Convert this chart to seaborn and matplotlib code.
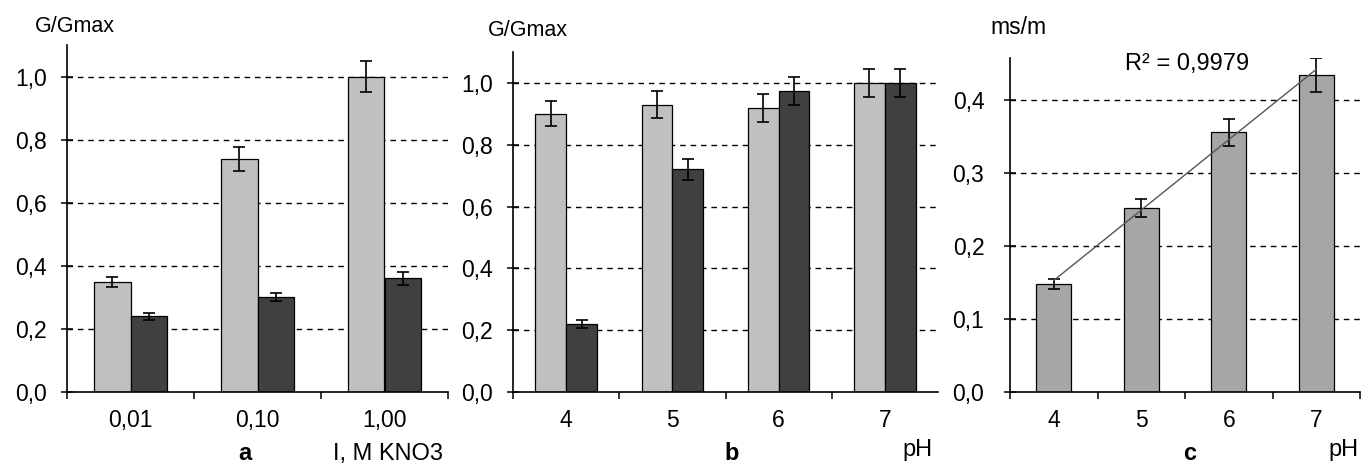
import numpy as np
import pandas as pd
import matplotlib
matplotlib.use("Agg")
import matplotlib.pyplot as plt
from matplotlib.ticker import FixedLocator, FuncFormatter
import seaborn as sns

# ---- data -------------------------------------------------------------
kno3_labels = ["0,01", "0,10", "1,00"]
kno3_light = [0.35, 0.74, 1.00]
kno3_light_err = [0.016, 0.038, 0.048]
kno3_dark = [0.24, 0.30, 0.36]
kno3_dark_err = [0.012, 0.013, 0.020]

ph_labels = ["4", "5", "6", "7"]
ph_light = [0.90, 0.93, 0.92, 1.00]
ph_light_err = [0.04, 0.045, 0.045, 0.045]
ph_dark = [0.22, 0.72, 0.975, 1.00]
ph_dark_err = [0.012, 0.035, 0.045, 0.045]

ms_values = [0.148, 0.252, 0.356, 0.435]
ms_err = [0.007, 0.012, 0.019, 0.023]
r2_label = "R² = 0,9979"

# ---- style ------------------------------------------------------------
sns.set_theme(style="white")
plt.rcParams["font.family"] = ["Liberation Sans", "DejaVu Sans"]

LIGHT = "#c0c0c0"
DARK = "#404040"
MID = "#a6a6a6"

W, H = 1362, 463
fig = plt.figure(figsize=(W / 100, H / 100), dpi=100)
fig.patch.set_facecolor("white")


def px_axes(left, top, right, bottom):
    return fig.add_axes([left / W, (H - bottom) / H, (right - left) / W, (bottom - top) / H])


def comma(v, _pos=None):
    return f"{v:.1f}".replace(".", ",")


def style_axes(ax, ymax, yticks, grid_vals, n_cat, boundary_ticks, ypad=10):
    ax.set_ylim(0, ymax)
    ax.set_xlim(-0.5, n_cat - 0.5)
    for side in ("top", "right"):
        ax.spines[side].set_visible(False)
    for side in ("left", "bottom"):
        ax.spines[side].set_color("black")
        ax.spines[side].set_linewidth(1.2)
    ax.yaxis.set_major_locator(FixedLocator(yticks))
    ax.yaxis.set_major_formatter(FuncFormatter(comma))
    ax.tick_params(axis="y", direction="inout", length=9, width=1.1,
                   labelsize=16.5, colors="black", pad=ypad, left=True)
    ax.tick_params(axis="x", which="major", length=0, labelsize=16.5, pad=12,
                   colors="black")
    ax.xaxis.set_minor_locator(FixedLocator(boundary_ticks))
    ax.tick_params(axis="x", which="minor", direction="out", length=5,
                   width=1.1, color="black", bottom=True)
    for g in grid_vals:
        ax.axhline(g, color="black", lw=1.0, ls=(0, (4, 3.5)), zorder=0.5)
    ax.set_xlabel("")
    ax.set_ylabel("")
    ax.set_facecolor("white")


def grouped(ax, labels, light, dark, light_err, dark_err):
    df = pd.DataFrame({
        "cat": labels * 2,
        "value": light + dark,
        "series": ["s1"] * len(labels) + ["s2"] * len(labels),
    })
    sns.barplot(data=df, x="cat", y="value", hue="series", order=labels,
                palette=[LIGHT, DARK], width=0.58, gap=0, errorbar=None,
                edgecolor="black", linewidth=0.9, legend=False, ax=ax, zorder=2)
    errs = light_err + dark_err
    bars = [p for p in ax.patches][: len(errs)]
    for p, v, e in zip(bars, light + dark, errs):
        cx = p.get_x() + p.get_width() / 2
        ax.errorbar(cx, v, yerr=e, fmt="none", ecolor="black",
                    elinewidth=1.2, capsize=4, capthick=1.2, zorder=3)


# ---- panel a ----------------------------------------------------------
ax_a = px_axes(67, 45, 448, 392)
grouped(ax_a, kno3_labels, kno3_light, kno3_dark, kno3_light_err, kno3_dark_err)
style_axes(ax_a, 1.1, [0, 0.2, 0.4, 0.6, 0.8, 1.0], [0.2, 0.4, 0.6, 0.8, 1.0],
           len(kno3_labels), [-0.5, 0.5, 1.5, 2.5])

# ---- panel b ----------------------------------------------------------
ax_b = px_axes(513, 52, 938, 392)
grouped(ax_b, ph_labels, ph_light, ph_dark, ph_light_err, ph_dark_err)
style_axes(ax_b, 1.1, [0, 0.2, 0.4, 0.6, 0.8, 1.0], [0.2, 0.4, 0.6, 0.8, 1.0],
           len(ph_labels), [-0.5, 0.5, 1.5, 2.5])

# ---- panel c ----------------------------------------------------------
ax_c = px_axes(1010, 58, 1360, 392)
dfc = pd.DataFrame({"pH": ph_labels, "value": ms_values})
sns.barplot(data=dfc, x="pH", y="value", order=ph_labels, color=MID,
            saturation=1, width=0.4, errorbar=None, edgecolor="black",
            linewidth=0.9, ax=ax_c, zorder=2)
for p, v, e in zip(ax_c.patches, ms_values, ms_err):
    cx = p.get_x() + p.get_width() / 2
    ax_c.errorbar(cx, v, yerr=e, fmt="none", ecolor="black",
                  elinewidth=1.2, capsize=4, capthick=1.2, zorder=3)
sns.regplot(x=np.arange(len(ms_values)), y=np.array(ms_values), ci=None,
            scatter=False, truncate=True, ax=ax_c,
            line_kws={"color": "#555555", "lw": 1.0, "zorder": 4})
style_axes(ax_c, 0.458, [0, 0.1, 0.2, 0.3, 0.4], [0.1, 0.2, 0.3, 0.4],
           len(ph_labels), [-0.5, 0.5, 1.5, 2.5, 3.5], ypad=14)
ax_c.set_xlim(-0.5, len(ph_labels) - 0.5)

# ---- annotations ------------------------------------------------------
def ftext(x, y, s, **kw):
    kw.setdefault("fontsize", 15.5)
    kw.setdefault("ha", "center")
    kw.setdefault("va", "center")
    fig.text(x / W, 1 - y / H, s, color="black", **kw)


ftext(75, 27, "G/Gmax")
ftext(245, 454, "a", fontweight="bold", fontsize=17)
ftext(443, 454, "I, M KNO3", ha="right", fontsize=17)

ftext(528, 30, "G/Gmax")
ftext(732, 454, "b", fontweight="bold", fontsize=17)
ftext(918, 450, "pH", fontsize=17)

ftext(1018, 27, "ms/m", fontsize=16.5)
ftext(1190, 454, "c", fontweight="bold", fontsize=17)
ftext(1343, 450, "pH", fontsize=17)
ftext(1187, 64, r2_label, fontsize=17)

fig.savefig("out.png", dpi=100, facecolor="white")
